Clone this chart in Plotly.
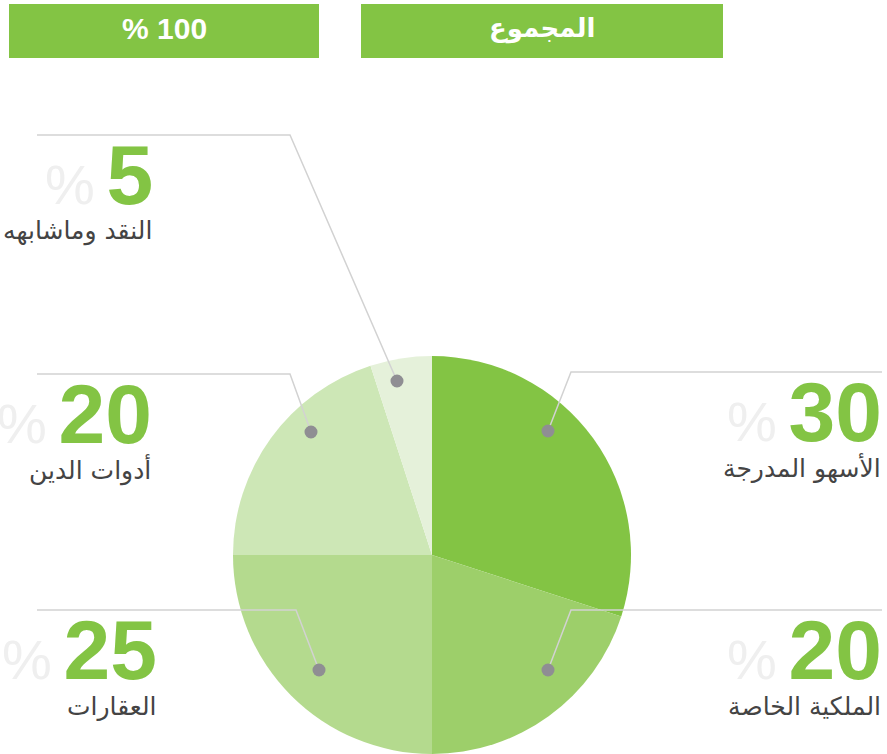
import plotly.graph_objects as go

# Allocation data
categories = ["الأسهو المدرجة", "الملكية الخاصة", "العقارات", "أدوات الدين", "النقد وماشابهه"]
shares = [30, 20, 25, 20, 5]
total_label = "المجموع"
total_value = 100

slice_colors = ["#83c444", "#9dcf6a", "#b4da8e", "#cde7b6", "#e5f1da"]
accent = "#83c444"

W, H = 887, 754


def px(x):
    return x / W


def py(y):
    return 1 - y / H


fig = go.Figure()

# Pie (center ~ (432, 555), radius ~199 px)
cx, cy, r = 432, 555, 199
fig.add_trace(go.Pie(
    values=shares,
    labels=categories,
    sort=False,
    direction="clockwise",
    rotation=0,
    marker=dict(colors=slice_colors, line=dict(width=0)),
    textinfo="none",
    hoverinfo="none",
    showlegend=False,
    domain=dict(x=[px(cx - r), px(cx + r)], y=[py(cy + r), py(cy - r)]),
))

shapes = []
annotations = []

# Header boxes: total value (left) and its caption (right)
headers = [
    (9, 319, f"<b>% {total_value}</b>", "Liberation Sans", 30),
    (361, 723, f"<b>{total_label}</b>", "DejaVu Sans", 26),
]
for x0, x1, txt, fam, size in headers:
    shapes.append(dict(type="rect", xref="paper", yref="paper",
                       x0=px(x0), x1=px(x1), y0=py(58), y1=py(4),
                       fillcolor=accent, line=dict(width=0), layer="above"))
    annotations.append(dict(xref="paper", yref="paper", x=px((x0 + x1) / 2), y=py(29),
                            xanchor="center", yanchor="middle", showarrow=False,
                            text=txt,
                            font=dict(family=fam, size=size, color="white")))

# Leader layout per category: dot, elbow, line end, text right edge
leaders = [
    dict(dot=(548, 431), elbow=(571, 372), end=882, right=882),
    dict(dot=(548, 670), elbow=(571, 610), end=882, right=882),
    dict(dot=(319, 670), elbow=(296, 610), end=37, right=157),
    dict(dot=(311, 432), elbow=(290, 374), end=37, right=152),
    dict(dot=(397, 381), elbow=(290, 135), end=37, right=153),
]

line_col = "#d2d2d2"
pct_style = "color:#efefef;font-size:56px;font-weight:normal"
gap_style = "font-size:42px"
for cat, val, ld in zip(categories, shares, leaders):
    dx, dy = ld["dot"]
    ex, ey = ld["elbow"]
    shapes.append(dict(type="path", xref="paper", yref="paper",
                       path=f"M {px(dx)} {py(dy)} L {px(ex)} {py(ey)} L {px(ld['end'])} {py(ey)}",
                       line=dict(color=line_col, width=1.5), layer="above"))
    rad = 6.5
    shapes.append(dict(type="circle", xref="paper", yref="paper",
                       x0=px(dx - rad), x1=px(dx + rad), y0=py(dy + rad), y1=py(dy - rad),
                       fillcolor="#8f8e93", line=dict(width=0), layer="above"))
    # big number with light percent sign
    annotations.append(dict(xref="paper", yref="paper", x=px(ld["right"] + 2), y=py(ey + 40),
                            xanchor="right", yanchor="middle", showarrow=False,
                            text=(f"<span style='{pct_style}'>%</span>"
                                  f"<span style='{gap_style}'> </span><b>{val}</b>"),
                            font=dict(family="Liberation Sans", size=84, color=accent)))
    annotations.append(dict(xref="paper", yref="paper", x=px(ld["right"] + 1), y=py(ey + 96),
                            xanchor="right", yanchor="middle", showarrow=False,
                            text=cat,
                            font=dict(family="DejaVu Sans", size=25, color="#444444")))

fig.update_layout(
    width=W, height=H,
    margin=dict(l=0, r=0, t=0, b=0),
    paper_bgcolor="white", plot_bgcolor="white",
    shapes=shapes, annotations=annotations,
)

fig.write_html("out.html")
